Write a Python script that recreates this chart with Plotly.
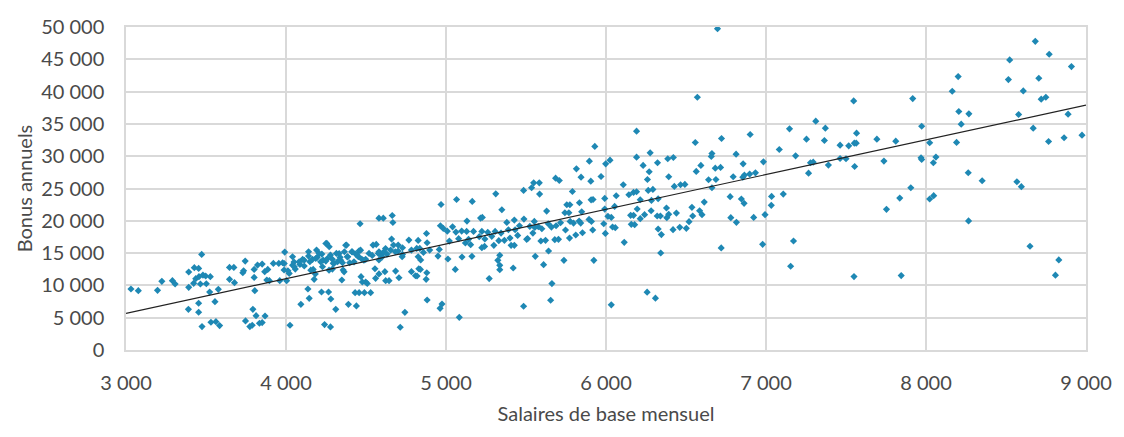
import plotly.graph_objects as go

# Values: (salaire de base mensuel, bonus annuel)
points_3000_4000 = [
    (3031, 9440), (3077, 9180), (3197, 9230), (3224, 10630), (3290, 10730), (3307, 10210),
    (3392, 12070), (3427, 12740), (3454, 12630), (3473, 14800), (3392, 9700), (3423, 10320),
    (3436, 11040), (3456, 11350), (3465, 10210), (3481, 11600), (3498, 11450), (3527, 11350),
    (3502, 10260), (3523, 8970), (3577, 9390), (3390, 6300), (3454, 7230), (3454, 5840),
    (3475, 3620), (3556, 7480), (3531, 4290), (3562, 4390), (3585, 3780), (3647, 12790),
    (3674, 12790), (3647, 10940), (3678, 10420), (3730, 11960), (3745, 13770), (3735, 12270),
    (3801, 12480), (3801, 11240), (3805, 9180), (3822, 13150), (3851, 13300), (3867, 12120),
    (3886, 12480), (3880, 10830), (3896, 10730), (3921, 13400), (3955, 13400), (3979, 13510),
    (3992, 15160), (3961, 10730), (3747, 4500), (3774, 3620), (3789, 3830), (3793, 6300),
    (3813, 5320), (3834, 4140), (3851, 4240), (3869, 5270),
]

points_4000_4500 = [
    (4463, 19540), (4041, 14440), (4050, 13610), (4087, 13250), (4058, 12530), (4104, 14030),
    (4141, 15210), (4141, 14540), (4149, 13670), (4166, 14030), (4191, 15470), (4195, 14340),
    (4224, 14850), (4232, 13920), (4249, 13770), (4255, 16500), (4270, 15980), (4278, 14700),
    (4290, 14030), (4295, 13410), (4315, 14950), (4322, 13670), (4338, 14340), (4353, 13510),
    (4365, 15210), (4378, 16240), (4386, 14440), (4398, 13510), (4411, 15210), (4436, 14850),
    (4452, 14440), (4457, 15370), (4473, 14080), (4498, 14030), (3988, 12380), (4012, 12270),
    (4004, 10730), (4052, 12890), (4114, 13000), (4170, 12480), (4183, 11760), (4176, 10940),
    (4228, 12890), (4290, 12530), (4349, 10830), (4357, 12380), (4469, 11350), (4477, 10520),
    (4498, 10520), (4137, 9440), (4145, 8000), (4222, 8980), (4266, 8980), (4280, 7900),
    (4093, 7070), (4311, 6300), (4390, 7070), (4440, 6820), (4432, 8880), (4457, 8880),
    (4490, 8880), (4025, 3830), (4241, 3930), (4278, 3570),
    (3989, 13390), (4041, 13130), (4082, 13650), (4114, 13900), (4186, 14160), (4207, 14930),
    (4217, 13650), (4249, 16480), (4259, 14160), (4300, 13390), (4332, 14930), (4342, 13900),
    (4373, 16220), (4383, 14420), (4414, 15190), (4425, 13650), (4446, 14680), (4466, 15450),
    (4487, 13900), (4363, 12100), (4269, 12360), (4155, 12360), (4020, 11850), (4508, 10300),
]

points_4500_5000 = [
    (4581, 20410), (4608, 20410), (4664, 20820), (4668, 19740), (4969, 22520), (5066, 23300),
    (4544, 16240), (4564, 16340), (4519, 14950), (4539, 14640), (4577, 14950), (4596, 14700),
    (4610, 15160), (4631, 14850), (4654, 15470), (4660, 17170), (4672, 16240), (4683, 15210),
    (4701, 15310), (4728, 15830), (4728, 14800), (4768, 17010), (4784, 15470), (4817, 15730),
    (4826, 16960), (4836, 15730), (4878, 18040), (4882, 16600), (4898, 15470), (4965, 19230),
    (4983, 18820), (5008, 18400), (5021, 16860), (5041, 19070), (5062, 18250), (4826, 14440),
    (4842, 13930), (4581, 13930), (4556, 12580), (4618, 12120), (4623, 10730), (4644, 10730),
    (4685, 12220), (4706, 11190), (4784, 12120), (4809, 11500), (4830, 12580), (4840, 12480),
    (4819, 11450), (4880, 11960), (4876, 10940), (4950, 14540), (5012, 14080), (5058, 12480),
    (4560, 11090), (4529, 8880), (4882, 7740), (4743, 5830), (4963, 6450), (4975, 7120),
    (5083, 5060), (4714, 3520), (4701, 16240), (4726, 14440), (4859, 15110), (4958, 15570),
    (4581, 15190), (4601, 14420), (4622, 15710), (4581, 11780),
]

points_5000_6000 = [
    (5896, 29230), (5998, 28820), (5815, 28040), (5969, 26860), (5844, 26760), (5905, 26140),
    (5685, 26600), (5708, 26240), (5548, 25880), (5583, 25880), (5535, 25110), (5485, 24700),
    (5585, 24130), (5790, 24540), (5311, 24180), (5164, 23000), (5992, 23460), (5907, 23250),
    (5919, 23300), (5349, 21710), (5629, 21500), (5755, 22480), (5774, 22480), (5834, 22790),
    (5743, 21240), (5768, 21240), (5848, 21400), (5992, 21810), (5216, 20420), (5227, 20520),
    (5131, 19960), (5380, 19750), (5427, 20110), (5487, 20270), (5552, 19910), (5577, 19090),
    (5639, 19550), (5716, 19700), (5776, 19910), (5797, 19650), (5832, 19960), (5842, 19650),
    (5894, 20220), (5909, 19910), (5986, 19550), (5098, 18410), (5129, 18360), (5172, 18360),
    (5224, 18360), (5261, 18210), (5307, 18360), (5344, 18100), (5390, 18620), (5432, 18620),
    (5459, 19240), (5524, 19130), (5555, 18980), (5599, 18770), (5659, 19030), (5688, 19240),
    (5747, 18570), (5811, 17800), (5853, 18150), (5917, 18570), (5996, 18050), (5079, 17230),
    (5141, 17130), (5208, 17540), (5243, 17180), (5286, 17590), (5330, 16920), (5365, 16970),
    (5400, 17330), (5448, 17740), (5510, 17230), (5543, 18100), (5593, 16870), (5622, 16970),
    (5680, 17080), (5703, 17130), (5772, 17330), (5154, 16300), (5121, 16560), (5224, 15840),
    (5241, 16040), (5299, 16200), (5407, 16200), (5427, 16200), (5504, 17130), (5100, 14400),
    (5162, 14500), (5336, 14650), (5324, 13880), (5336, 13110), (5336, 12440), (5420, 12700),
    (5558, 14500), (5641, 15320), (5610, 13210), (5737, 13880), (5924, 13880), (5270, 11050),
    (5662, 10280), (5654, 7700), (5485, 6770), (5930, 31520),
]

points_6000_7000 = [
    (6697, 49745), (6571, 39120), (6191, 33870), (6901, 33360), (6722, 32740), (6558, 32120),
    (6276, 30520), (6662, 30420), (6658, 29960), (6813, 30320), (6025, 29390), (6191, 29850),
    (6386, 29600), (6421, 29800), (6322, 28980), (6232, 28570), (6857, 28820), (6984, 29130),
    (6564, 27640), (6593, 28570), (6683, 28150), (6716, 28260), (6270, 27590), (6392, 26820),
    (6687, 26400), (6641, 26350), (6795, 26820), (6855, 26760), (6865, 27070), (6898, 27230),
    (6934, 27430), (6259, 26400), (6108, 25580), (6427, 25320), (6466, 25580), (6493, 25630),
    (6662, 25120), (6264, 24700), (6293, 24860), (6143, 24030), (6172, 24400), (6191, 24500),
    (6064, 23880), (6214, 23260), (6284, 23160), (6326, 23420), (6614, 22900), (6776, 23730),
    (6846, 23370), (6863, 22700), (6054, 22230), (6195, 21820), (6282, 21560), (6378, 21980),
    (6537, 22080), (6585, 21560), (6012, 20690), (6033, 20530), (6154, 20840), (6172, 20840),
    (6214, 20330), (6241, 20950), (6320, 20740), (6340, 20740), (6380, 20480), (6392, 21000),
    (6440, 21200), (6542, 20740), (6600, 20950), (6780, 20480), (6815, 19760), (6923, 20530),
    (6994, 20950), (6041, 19040), (6058, 18940), (6158, 19450), (6179, 19400), (6326, 18730),
    (6346, 17860), (6419, 18630), (6461, 18990), (6502, 18830), (6519, 19860), (6114, 16670),
    (6342, 15020), (6720, 15800), (6979, 16360), (6257, 8950), (6309, 8020), (6033, 6990),
]

points_7000_8000 = [
    (7548, 38560), (7917, 38920), (7311, 35420), (7147, 34230), (7371, 34340), (7566, 33560),
    (7253, 32640), (7365, 32430), (7083, 31040), (7463, 31710), (7517, 31610), (7552, 32020),
    (7564, 32020), (7693, 32640), (7811, 32330), (7973, 34640), (7185, 30060), (7278, 28980),
    (7295, 29080), (7463, 29650), (7500, 29600), (7390, 28620), (7554, 28410), (7737, 29240),
    (7969, 29750), (7973, 29490), (7266, 27380), (7035, 23780), (7108, 24140), (7033, 22390),
    (7905, 25120), (7836, 23520), (7753, 21770), (7172, 16880), (7154, 12960), (7550, 11370),
    (7845, 11520),
]

points_8000_9000 = [
    (8683, 47785), (8770, 45780), (8909, 43870), (8523, 44900), (8515, 41860), (8201, 42330),
    (8164, 40060), (8608, 40110), (8705, 42070), (8720, 38825), (8749, 39130), (8205, 36920),
    (8268, 36560), (8220, 34960), (8579, 36460), (8888, 36510), (8670, 34340), (8023, 32080),
    (8191, 32130), (8766, 32280), (8863, 32850), (8975, 33260), (8062, 29860), (8046, 28990),
    (8264, 27440), (8351, 26200), (8568, 26050), (8596, 25280), (8023, 23380), (8048, 23890),
    (8266, 19980), (8650, 16060), (8830, 13950), (8809, 11580),
]

# Linear trend line end points
trend_salary = [3000, 9000]
trend_bonus = [5670, 37900]

x_ticks = [3000, 4000, 5000, 6000, 7000, 8000, 9000]
y_ticks = [0, 5000, 10000, 15000, 20000, 25000, 30000, 35000, 40000, 45000, 50000]

all_points = (points_3000_4000 + points_4000_4500 + points_4500_5000 + points_5000_6000
              + points_6000_7000 + points_7000_8000 + points_8000_9000)
salaires = [p[0] for p in all_points]
bonus = [p[1] for p in all_points]

def fmt(v):
    return f"{v:,}".replace(",", "\u00a0")

FONT = "Lato, 'Open Sans', sans-serif"
TEXT = "#4a4a4a"
GRID = "#d9d9d9"

fig = go.Figure()
fig.add_trace(go.Scatter(
    x=salaires, y=bonus, mode="markers",
    marker=dict(symbol="diamond", size=5.5, color="#1E88B4", line=dict(width=0)),
    showlegend=False, hoverinfo="x+y",
))
fig.add_trace(go.Scatter(
    x=trend_salary, y=trend_bonus, mode="lines",
    line=dict(color="#222222", width=1.2), showlegend=False, hoverinfo="skip",
))

fig.update_layout(
    width=1124, height=437,
    margin=dict(l=126, r=34, t=27, b=87),
    paper_bgcolor="white", plot_bgcolor="white",
    font=dict(family=FONT, size=20, color=TEXT),
)
fig.update_xaxes(
    range=[3000, 9000], tickvals=x_ticks, ticktext=[fmt(v) for v in x_ticks],
    showgrid=True, gridcolor=GRID, gridwidth=1.5,
    showline=True, linecolor=GRID, linewidth=1.5, mirror=True, zeroline=False,
    ticks="", ticklabelstandoff=14,
    title=dict(text="Salaires de base mensuel", font=dict(size=20, color=TEXT), standoff=14),
)
fig.update_yaxes(
    range=[0, 50000], tickvals=y_ticks, ticktext=[fmt(v) for v in y_ticks],
    showgrid=True, gridcolor=GRID, gridwidth=1.5,
    showline=True, linecolor=GRID, linewidth=1.5, mirror=True, zeroline=False,
    ticks="", ticklabelstandoff=16,
    title=dict(text="Bonus annuels", font=dict(size=20, color=TEXT), standoff=3),
)

fig.write_html("out.html")
